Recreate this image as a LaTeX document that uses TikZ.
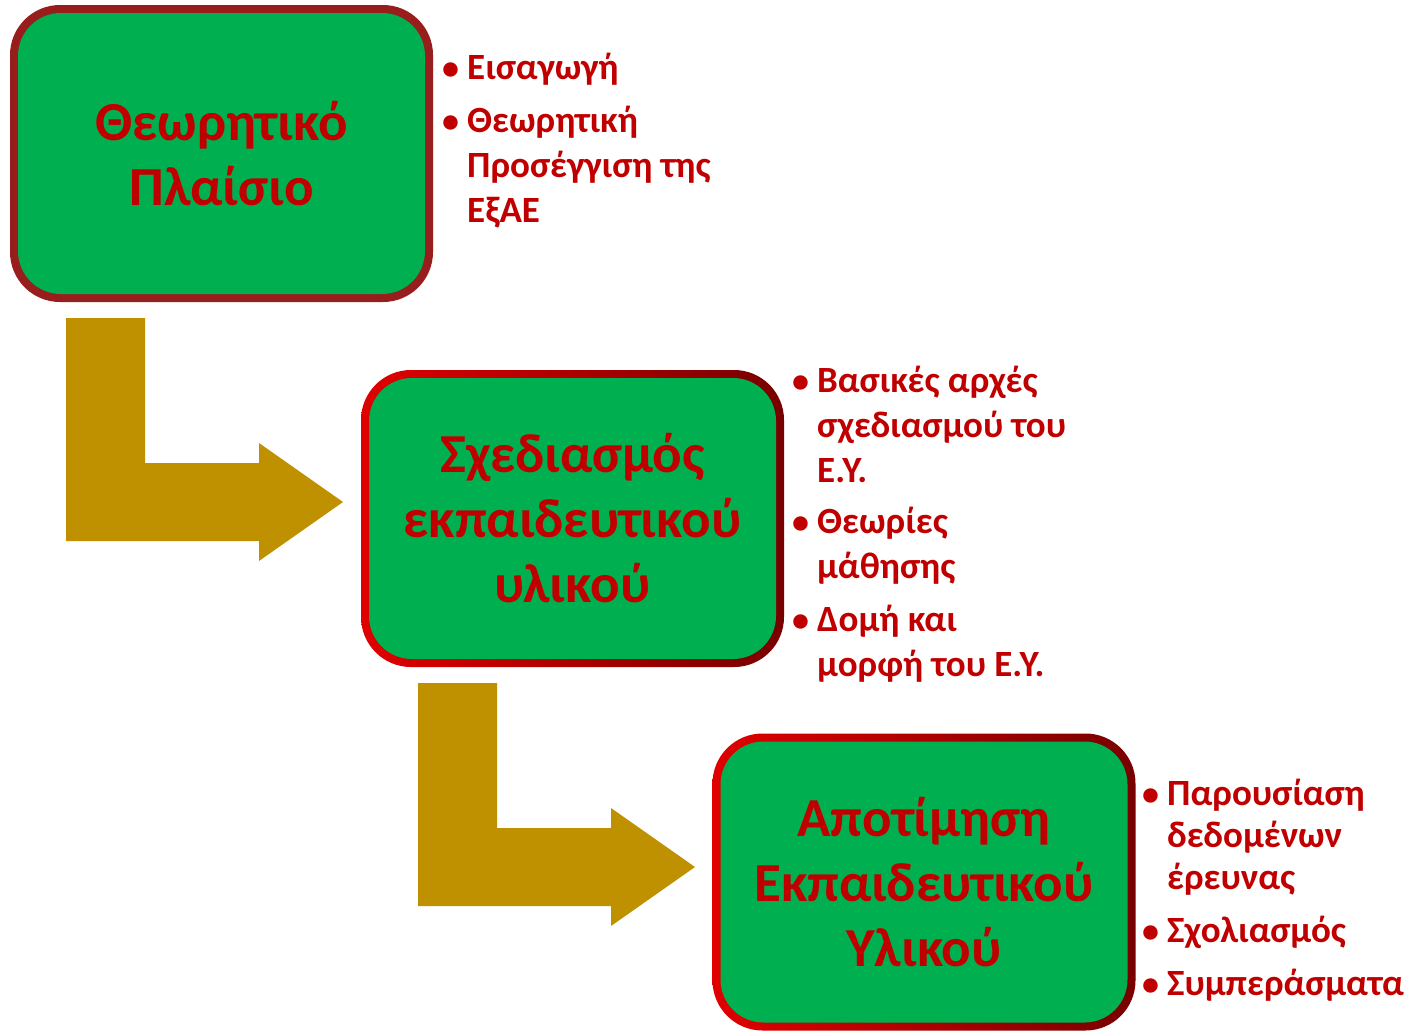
\documentclass[tikz,border=0pt]{standalone}
\usepackage{fontspec}
\setmainfont{Carlito}
\usetikzlibrary{positioning}
\definecolor{boxgreen}{HTML}{00B050}
\definecolor{titlered}{HTML}{C00000}
\definecolor{rimdark}{HTML}{981E1E}
\definecolor{rimbright}{HTML}{E00000}
\definecolor{rimdeep}{HTML}{780000}
\definecolor{bendgold}{HTML}{BF9000}
\tikzset{
  frame/.style={minimum width=423pt, minimum height=297pt, rounded corners=50pt, inner sep=0pt},
  panel/.style={minimum width=407pt, minimum height=281pt, rounded corners=43pt, inner sep=0pt,
    fill=boxgreen, text=titlered, align=center, font=\fontsize{55}{65}\bfseries\selectfont},
  item/.style={anchor=base west, align=left, inner sep=0pt, text=titlered,
    font=\fontsize{37}{45}\bfseries\selectfont},
  dot/.style={anchor=base west, inner sep=0pt, text=titlered,
    font=\fontsize{34}{45}\bfseries\selectfont},
  bendarrow/.style={fill=bendgold}
}
\begin{document}
\begin{tikzpicture}[x=1pt, y=-1pt]
  \useasboundingbox (0,0) rectangle (1414,1031);
  % boxes
  \node (theoryrim) [frame, fill=rimdark] at (221.5,153.5) {};
  \node (theory) [panel] at (theoryrim) {Θεωρητικό\\Πλαίσιο};
  \node (designrim) [frame, left color=rimbright, right color=rimdeep] at (572.5,518.5) {};
  \node (design) [panel] at (designrim) {Σχεδιασμός\\εκπαιδευτικού\\υλικού};
  \node (evalrim) [frame, left color=rimbright, right color=rimdeep] at (924,882) {};
  \node (eval) [panel] at (evalrim) {Αποτίμηση\\Εκπαιδευτικού\\Υλικού};
  % bent arrows
  \foreach \dx/\dy in {0/0, 352/365}
    \fill[bendarrow, shift={(\dx,\dy)}] (66,318) -- (145,318) -- (145,463) -- (259,463)
      -- (259,443) -- (343,502) -- (259,561) -- (259,541) -- (66,541) -- cycle;
  % notes (anchored on their last line)
  \node (t1) [item] at (467,79) {Εισαγωγή};
  \node (t2) [item] at (467,222) {Θεωρητική\\Προσέγγιση της\\ΕξΑΕ};
  \node (d1) [item] at (817,482) {Βασικές αρχές\\σχεδιασμού του\\Ε.Υ.};
  \node (d2) [item] at (817,578) {Θεωρίες\\μάθησης};
  \node (d3) [item] at (817,676) {Δομή και\\μορφή του Ε.Υ.};
  \node (e1) [item, font=\fontsize{37}{42}\bfseries\selectfont] at (1167,889) {Παρουσίαση\\δεδομένων\\έρευνας};
  \node (e2) [item] at (1167,942) {Σχολιασμός};
  \node (e3) [item] at (1167,995) {Συμπεράσματα};
  % bullets
  \foreach \x/\y [count=\i] in {442/79, 442/132, 792/392, 792/533, 792/631,
                                1142/805, 1142/942, 1142/995}
    \node (dot\i) [dot] at (\x,\y) {•};
\end{tikzpicture}
\end{document}
